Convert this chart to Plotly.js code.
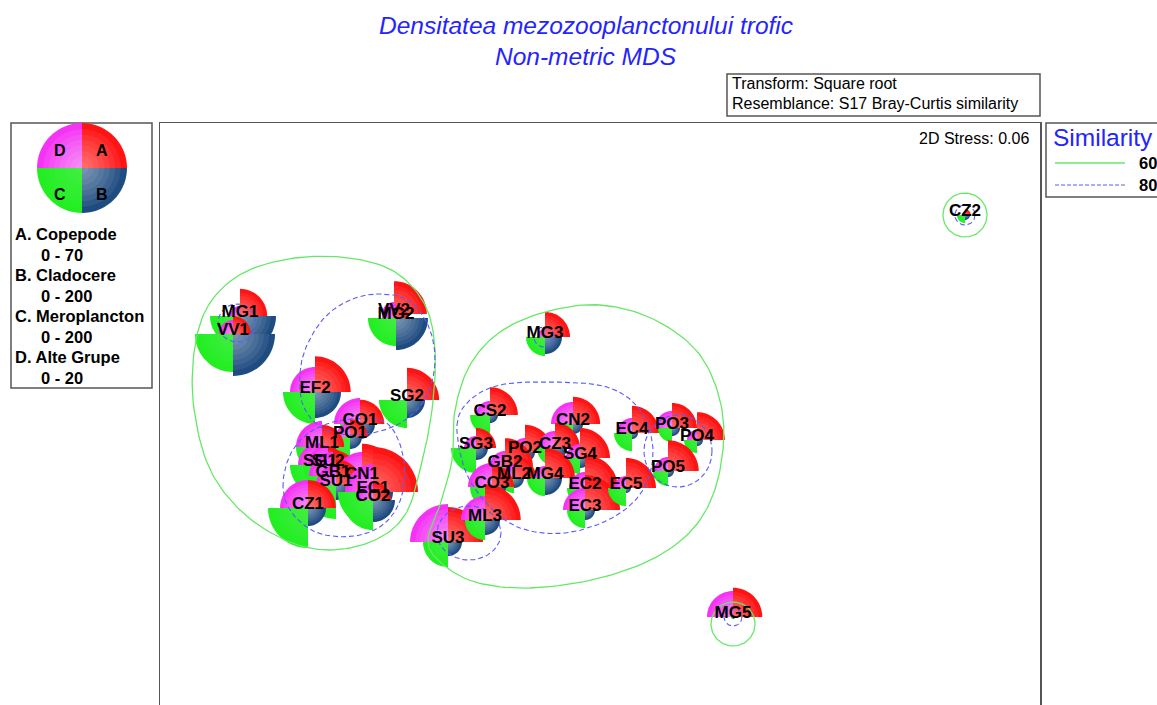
<!DOCTYPE html>
<html><head><meta charset="utf-8">
<script src="https://cdn.plot.ly/plotly-3.0.1.min.js"></script>
<style>html,body{margin:0;padding:0;overflow:hidden;background:#fff}#chart{width:1157px;height:760px}</style>
</head><body><div id="chart"></div>
<script>
// ---- sample data (nMDS coordinates, arbitrary units) ----
const samples = ['MG1','VV1','VV2','MG2','MG3','EF2','SG2','CO1','PO1','ML1','SG1','SU2','GB1','CN1','SU1','EC1','CO2','CZ1',
  'CS2','SG3','CN2','PO2','CZ3','GB2','SG4','ML2','MG4','CO3','EC2','EC3','EC5','EC4','PO3','PO4','PO5','SU3','ML3','MG5','CZ2'];
const mdsX = [240,233,394,396,545,315,407,360,350,322,320,328,333,362,336,373,373,308,
  490,476,573,525,555,505,580,514,545,492,585,585,626,632,672,697,668,448,485,733,965];
const mdsY = [316,334,314,318,337,392,400,424,437,447,465,465,476,478,485,492,500,508,
  415,448,424,452,448,466,458,478,478,487,488,510,488,433,428,440,471,542,520,617,215];
// abundances (A. Copepode 0-70, B. Cladocere 0-200, C. Meroplancton 0-200, D. Alte Grupe 0-20)
const copepode     = [38,25,46,17,35,50,45,34,25,31,28,25,36,48,36,63,25,39, 39,28,38,38,35,39,42,31,42,31,46,49,42,38,35,39,43,49,50,41,8];
const cladocere    = [144,168,48,128,68,104,72,60,48,56,48,40,56,72,60,80,88,72, 32,48,40,40,48,40,40,40,68,56,40,40,20,24,32,24,24,56,60,8,20];
const meroplancton = [120,152,48,112,76,128,112,80,120,104,120,100,88,112,136,140,120,160, 80,100,72,60,72,60,64,60,72,88,72,72,72,72,56,52,60,100,80,8,32];
const alteGrupe    = [4,5.6,4.8,5.6,3.2,10,0.8,10.4,5.6,10.4,8.8,8,9.6,10.4,8,11.2,6.4,11.2, 5.6,4.8,8.8,5.6,6.8,6,5.6,5.6,4.8,9.6,6.4,8.8,4.8,6,6.8,4,5.6,15.2,9.6,10.4,1.2];
const groupNames = ['A. Copepode','B. Cladocere','C. Meroplancton','D. Alte Grupe'];
const groupRanges = ['0 - 70','0 - 200','0 - 200','0 - 20'];
const groupMax = [70,200,200,20];

// ---- similarity contours ----
const sim60LeftX  = [193,196,212,245,295,350,395,425,435,432,420,405,375,330,285,240,208];
const sim60LeftY  = [400,340,300,272,258,258,272,305,350,410,470,515,540,550,540,510,465];
const sim60RightX = [452,455,470,500,545,600,655,700,722,720,700,660,600,530,475,440,428,440];
const sim60RightY = [460,410,365,332,312,305,320,355,410,470,520,555,578,588,582,562,540,505];
const sim80UpperX = [300,307,325,350,378,408,428,435,430,415,390,355,322,303];
const sim80UpperY = [373,345,317,300,294,300,325,357,388,412,428,435,428,405];
const sim80LowerX = [283,290,310,343,385,403,402,385,355,318,292];
const sim80LowerY = [487,455,432,420,422,455,495,523,536,533,513];
const sim80MidX   = [457,470,500,550,607,640,653,643,612,565,520,488,465];
const sim80MidY   = [425,400,385,382,387,410,450,490,518,533,528,505,470];
const ringCx    = [965,733,237,678,469,544,733,965];
const ringCy    = [215,624,323,451,533,337,617,215];
const ringRx    = [22,22,19,34,32,10,9,10];
const ringRy    = [22,22,19,36,27,10,9,10];
const ringLevel = [60,60,80,80,80,80,80,80];

// ---- styling ----
const RMAX = 50;
const COLORS = ['#ff1414','#1f4c80','#22ee22','#f533f5'];
const SHADE = [0.065,0.07,0.025,0.08];   // white highlight strength per quadrant (per layer)
const SHADE_F = [0.86,0.74,0.62,0.5,0.38,0.26,0.14];
const QUAD = [[-Math.PI/2,0],[0,Math.PI/2],[Math.PI/2,Math.PI],[Math.PI,1.5*Math.PI]];
const G60 = '#66e866', B80 = '#5a5aff';
const FONT = 'Liberation Sans, Arial';

function wedgeXY(x,y,r,a0,a1,fx,fy){
  let p = `M ${fx(x)} ${fy(y)}`;
  const n = 18;
  for(let i=0;i<=n;i++){const a=a0+(a1-a0)*i/n; p+=` L ${fx(x+r*Math.cos(a))} ${fy(y+r*Math.sin(a))}`;}
  return p+' Z';
}
const id=v=>v;
const shapes = [];
const vals = [copepode,cladocere,meroplancton,alteGrupe];
function glyph(x,y,radii,ref,fx,fy,layer){
  for(let q=0;q<4;q++){
    const r = radii[q];
    if(r<0.5) continue;
    shapes.push({type:'path',xref:ref,yref:ref==='paper'?'paper':'y',layer:layer,path:wedgeXY(x,y,r,QUAD[q][0],QUAD[q][1],fx,fy),
      fillcolor:COLORS[q],line:{width:0}});
    for(const f of SHADE_F){
      shapes.push({type:'path',xref:ref,yref:ref==='paper'?'paper':'y',layer:layer,path:wedgeXY(x,y,r*f,QUAD[q][0],QUAD[q][1],fx,fy),
        fillcolor:`rgba(255,255,255,${SHADE[q]})`,line:{width:0}});
    }
  }
}
for(let i=0;i<samples.length;i++){
  glyph(mdsX[i],mdsY[i],[0,1,2,3].map(q=>vals[q][i]/groupMax[q]*RMAX),'x',id,id,'below');
}
// closed Catmull-Rom curve
function closedCurve(xs,ys){
  const n=xs.length, ox=[], oy=[];
  for(let i=0;i<n;i++){
    const p0=[xs[(i-1+n)%n],ys[(i-1+n)%n]],p1=[xs[i],ys[i]],p2=[xs[(i+1)%n],ys[(i+1)%n]],p3=[xs[(i+2)%n],ys[(i+2)%n]];
    for(let s=0;s<12;s++){const t=s/12,t2=t*t,t3=t2*t;
      ox.push(0.5*((2*p1[0])+(-p0[0]+p2[0])*t+(2*p0[0]-5*p1[0]+4*p2[0]-p3[0])*t2+(-p0[0]+3*p1[0]-3*p2[0]+p3[0])*t3));
      oy.push(0.5*((2*p1[1])+(-p0[1]+p2[1])*t+(2*p0[1]-5*p1[1]+4*p2[1]-p3[1])*t2+(-p0[1]+3*p1[1]-3*p2[1]+p3[1])*t3));}
  }
  ox.push(ox[0]); oy.push(oy[0]);
  return [ox,oy];
}
function ellipse(cx,cy,rx,ry){const ox=[],oy=[];for(let i=0;i<=72;i++){const a=i/72*2*Math.PI;ox.push(cx+rx*Math.cos(a));oy.push(cy+ry*Math.sin(a));}return [ox,oy];}
const traces=[];
function addContour(pts,level){
  traces.push({x:pts[0],y:pts[1],mode:'lines',hoverinfo:'skip',showlegend:false,
    line:level===60?{color:G60,width:1.3}:{color:B80,width:1.1,dash:'5px,3px'}});
}
addContour(closedCurve(sim60LeftX,sim60LeftY),60);
addContour(closedCurve(sim60RightX,sim60RightY),60);
addContour(closedCurve(sim80UpperX,sim80UpperY),80);
addContour(closedCurve(sim80LowerX,sim80LowerY),80);
addContour(closedCurve(sim80MidX,sim80MidY),80);
for(let i=0;i<ringCx.length;i++) addContour(ellipse(ringCx[i],ringCy[i],ringRx[i],ringRy[i]),ringLevel[i]);
traces.push({x:mdsX,y:mdsY.map(v=>v-3),text:samples.map(s=>'<b>'+s+'</b>'),mode:'text',textposition:'middle center',
  hoverinfo:'skip',showlegend:false,textfont:{family:FONT,size:17,color:'#000'}});

// ---- page furniture (paper coords from pixel positions) ----
const PX=x=>(x-160)/880, PY=y=>(760-y)/637;
const ann=[];
function txt(t,x,y,o){ann.push(Object.assign({text:t,xref:'paper',yref:'paper',x:PX(x),y:PY(y),showarrow:false,xanchor:'left',yanchor:'middle',
  font:{family:FONT,size:16,color:'#000'}},o||{}));}
function rect(x0,y0,x1,y1){shapes.push({type:'rect',xref:'paper',yref:'paper',x0:PX(x0),x1:PX(x1),y0:PY(y0),y1:PY(y1),line:{color:'#555',width:1.5},fillcolor:'rgba(0,0,0,0)'});}
// title
txt('<i>Densitatea mezozooplanctonului trofic</i>',586,25,{xanchor:'center',font:{family:FONT,size:24.5,color:'#2424ff'}});
txt('<i>Non-metric MDS</i>',586,57,{xanchor:'center',font:{family:FONT,size:24.5,color:'#2424ff'}});
// transform box
rect(727,74,1040,116);
txt('Transform: Square root',730,84);
txt('Resemblance: S17 Bray-Curtis similarity',730,104);
txt('2D Stress: 0.06',1031,138,{xanchor:'right'});
// legend box (left)
rect(11,123,152,388);
glyph(82,168,[45,45,45,45],'paper',PX,PY,'above');
const letters=['A','B','C','D'], lOff=[[20,-17],[20,27],[-22,27],[-22,-17]];
for(let q=0;q<4;q++) txt('<b>'+letters[q]+'</b>',82+lOff[q][0],168+lOff[q][1],{xanchor:'center',font:{family:FONT,size:16,color:'#000'}});
for(let q=0;q<4;q++){
  txt('<b>'+groupNames[q]+'</b>',13,234+q*41,{font:{family:FONT,size:16.5,color:'#000'}});
  txt('<b>'+groupRanges[q]+'</b>',39,255+q*41,{font:{family:FONT,size:16.5,color:'#000'}});
}
// similarity legend (right)
rect(1046,123,1170,197);
txt('Similarity',1051,137,{font:{family:FONT,size:24.5,color:'#2424ff'}});
shapes.push({type:'line',xref:'paper',yref:'paper',x0:PX(1055),x1:PX(1125),y0:PY(163),y1:PY(163),line:{color:G60,width:1.3}});
shapes.push({type:'line',xref:'paper',yref:'paper',x0:PX(1055),x1:PX(1125),y0:PY(185),y1:PY(185),line:{color:B80,width:1.1,dash:'4px,2px'}});
txt('<b>60</b>',1137,163,{font:{family:FONT,size:16.5,color:'#000'}});
txt('<b>80</b>',1137,185,{font:{family:FONT,size:16.5,color:'#000'}});

const layout={width:1157,height:760,margin:{l:160,r:117,t:123,b:0},paper_bgcolor:'#fff',plot_bgcolor:'#fff',showlegend:false,
  xaxis:{range:[160,1040],showgrid:false,zeroline:false,showticklabels:false,ticks:'',showline:true,mirror:true,linecolor:'#555',linewidth:1.5,fixedrange:true},
  yaxis:{range:[760,123],showgrid:false,zeroline:false,showticklabels:false,ticks:'',showline:true,mirror:true,linecolor:'#555',linewidth:1.5,fixedrange:true},
  shapes:shapes,annotations:ann};
Plotly.newPlot('chart',traces,layout,{staticPlot:true,displayModeBar:false});
</script></body></html>
